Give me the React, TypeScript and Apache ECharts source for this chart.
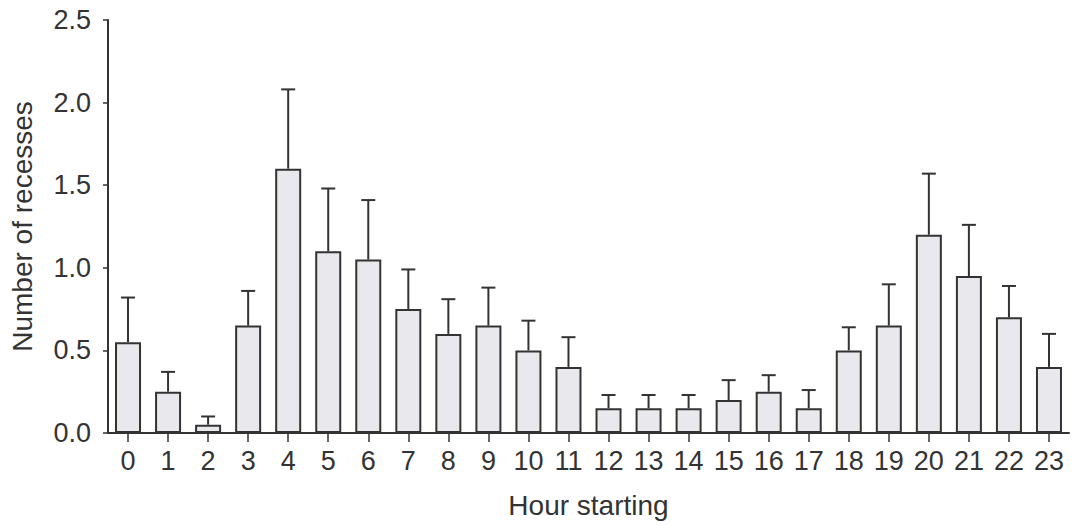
import React, { useEffect, useRef } from "react";
import * as echarts from "echarts";

const hours = ["0","1","2","3","4","5","6","7","8","9","10","11","12","13","14","15","16","17","18","19","20","21","22","23"];
const means = [0.55,0.25,0.05,0.65,1.60,1.10,1.05,0.75,0.60,0.65,0.50,0.40,0.15,0.15,0.15,0.20,0.25,0.15,0.50,0.65,1.20,0.95,0.70,0.40];
const sem = [0.27,0.12,0.05,0.21,0.48,0.38,0.36,0.24,0.21,0.23,0.18,0.18,0.08,0.08,0.08,0.12,0.10,0.11,0.14,0.25,0.37,0.31,0.19,0.20];
const yTicks = [0, 0.5, 1.0, 1.5, 2.0, 2.5];

const FONT = "'Liberation Sans', Arial, Helvetica, sans-serif";
const INK = "#333333";

export default function App() {
  const ref = useRef<HTMLDivElement>(null);
  useEffect(() => {
    if (!ref.current) return;
    const chart = echarts.init(ref.current, undefined, { renderer: "svg" });
    const errData = means.map((m, i) => [i, m, m + sem[i]]);
    chart.setOption({
      animation: false,
      backgroundColor: "#ffffff",
      grid: { left: 107, right: 4, top: 20, bottom: 92, containLabel: false },
      xAxis: {
        type: "category",
        data: hours,
        boundaryGap: true,
        name: "Hour starting",
        nameLocation: "middle",
        nameGap: 58,
        nameTextStyle: { fontSize: 28, color: INK, fontFamily: FONT },
        axisLine: { show: true, lineStyle: { color: INK, width: 2 } },
        axisTick: { show: true, alignWithLabel: true, length: 9, lineStyle: { color: INK, width: 1.5 } },
        axisLabel: { fontSize: 27, color: INK, fontFamily: FONT, margin: 14, interval: 0 },
        splitLine: { show: false },
      },
      yAxis: {
        type: "value",
        min: yTicks[0],
        max: yTicks[yTicks.length - 1],
        interval: 0.5,
        name: "Number of recesses",
        nameLocation: "middle",
        nameGap: 72,
        nameTextStyle: { fontSize: 28, color: INK, fontFamily: FONT },
        axisLine: { show: true, lineStyle: { color: INK, width: 2 } },
        axisTick: { show: true, length: 5, lineStyle: { color: INK, width: 1.5 } },
        axisLabel: { fontSize: 27, color: INK, fontFamily: FONT, margin: 17, formatter: (v: number) => v.toFixed(1) },
        splitLine: { show: false },
      },
      series: [
        {
          type: "bar",
          data: means,
          barWidth: 26,
          itemStyle: { color: "#e8e8ed", borderColor: INK, borderWidth: 2 },
          z: 2,
        },
        {
          type: "custom",
          data: errData,
          z: 3,
          renderItem: (params: any, api: any) => {
            const idx = api.value(0);
            const low = api.coord([idx, api.value(1)]);
            const high = api.coord([idx, api.value(2)]);
            const half = 7;
            return {
              type: "group",
              children: [
                { type: "line", shape: { x1: low[0], y1: low[1], x2: high[0], y2: high[1] }, style: { stroke: INK, lineWidth: 2 } },
                { type: "line", shape: { x1: high[0] - half, y1: high[1], x2: high[0] + half, y2: high[1] }, style: { stroke: INK, lineWidth: 2 } },
              ],
            };
          },
        },
      ],
    });
    return () => chart.dispose();
  }, []);
  return <div ref={ref} style={{ position: "fixed", left: 0, top: 0, width: 1073, height: 525 }} />;
}
